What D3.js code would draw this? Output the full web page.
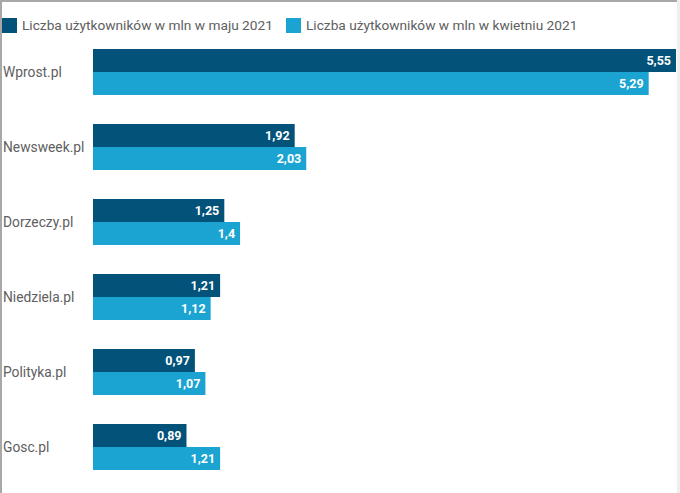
<!DOCTYPE html>
<html><head><meta charset="utf-8">
<script src="https://cdn.jsdelivr.net/npm/d3@7"></script>
<style>html,body{margin:0;padding:0;background:#fff;}svg{display:block;font-family:Roboto,sans-serif;}</style>
</head><body>
<svg id="c" width="680" height="493"></svg>
<script>
const categories = ["Wprost.pl","Newsweek.pl","Dorzeczy.pl","Niedziela.pl","Polityka.pl","Gosc.pl"];
const seriesNames = ["Liczba użytkowników w mln w maju 2021","Liczba użytkowników w mln w kwietniu 2021"];
const maj = [5.55,1.92,1.25,1.21,0.97,0.89];
const kwiecien = [5.29,2.03,1.4,1.12,1.07,1.21];
const colors = ["#02527A","#1BA4D1"];

const svg = d3.select("#c");
// frame
svg.append("rect").attr("x",0).attr("y",0).attr("width",680).attr("height",2).attr("fill","#a8a8a8");
svg.append("rect").attr("x",0).attr("y",0).attr("width",2).attr("height",493).attr("fill","#a8a8a8");
svg.append("rect").attr("x",677).attr("y",0).attr("width",3).attr("height",493).attr("fill","#efefef");

const x = d3.scaleLinear().domain([0,5.55]).range([93,676]);
const y = d3.scaleBand().domain(categories).range([49,470]).paddingInner(29/75).paddingOuter(0);
const sub = d3.scaleBand().domain([0,1]).range([0,y.bandwidth()]);

const fmt = v => d3.format(",")(v).replace(".",",");
const series = [maj,kwiecien];
series.forEach((vals,si)=>{
  const g = svg.append("g");
  g.selectAll("rect").data(categories).join("rect")
    .attr("x",x(0)).attr("y",c=>y(c)+sub(si))
    .attr("width",(c,i)=>x(vals[i])-x(0)).attr("height",sub.bandwidth())
    .attr("fill",colors[si]);
  g.selectAll("text").data(categories).join("text")
    .attr("x",(c,i)=>x(vals[i])-5).attr("y",c=>y(c)+sub(si)+sub.bandwidth()/2)
    .attr("dy","0.35em").attr("text-anchor","end")
    .attr("fill","#fff").attr("font-weight","bold").attr("font-size",12.5)
    .text((c,i)=>fmt(vals[i]));
});
svg.append("g").selectAll("text").data(categories).join("text")
  .attr("x",3).attr("y",c=>y(c)+y.bandwidth()/2).attr("dy","0.35em")
  .attr("fill","#606060").attr("font-size",13.8).text(c=>c);

// legend
const lx = [2,286];
seriesNames.forEach((n,i)=>{
  svg.append("rect").attr("x",lx[i]).attr("y",18).attr("width",15).attr("height",15).attr("fill",colors[i]);
  svg.append("text").attr("x",lx[i]+20).attr("y",25.5).attr("dy","0.35em").attr("fill","#606060").attr("font-size",13.7).text(n);
});
</script>
</body></html>
